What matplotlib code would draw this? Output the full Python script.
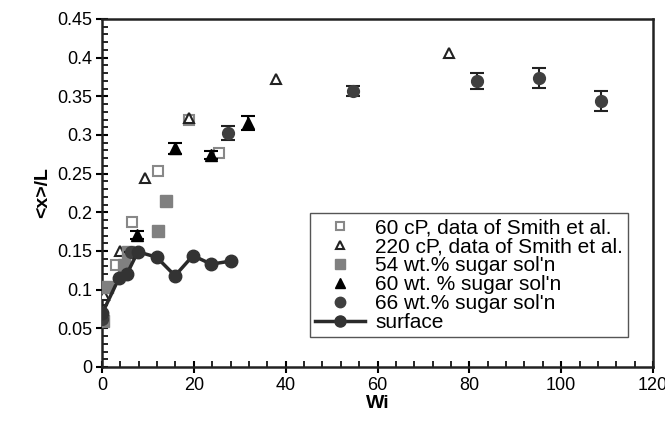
import matplotlib
matplotlib.use("Agg")
import matplotlib.pyplot as plt
from matplotlib.ticker import MultipleLocator
from matplotlib.lines import Line2D

plt.rcParams['font.family'] = ['Liberation Sans', 'DejaVu Sans']

# 60 cP, Smith et al. (open squares)
sq60_x = [3.0, 6.5, 12.2, 19.0, 25.5]
sq60_y = [0.132, 0.187, 0.253, 0.320, 0.277]
# 220 cP, Smith et al. (open triangles)
tri220_x = [0.4, 4.0, 9.4, 19.0, 37.9, 75.5]
tri220_y = [0.093, 0.150, 0.244, 0.322, 0.372, 0.406]
# 54 wt.% sugar (grey squares)
sq54_x = [0.2, 1.1, 4.8, 5.6, 12.2, 13.9]
sq54_y = [0.060, 0.104, 0.132, 0.149, 0.176, 0.215]
# 60 wt.% sugar (black triangles, with error bars)
tri60_x = [7.6, 15.9, 23.7, 31.8]
tri60_y = [0.171, 0.283, 0.274, 0.316]
tri60_err = [0.005, 0.007, 0.005, 0.009]
# 66 wt.% sugar (dark circles, with error bars)
c66_x = [0.1, 6.3, 27.4, 54.7, 81.7, 95.2, 108.7]
c66_y = [0.062, 0.149, 0.302, 0.357, 0.370, 0.374, 0.344]
c66_err = [0.0, 0.0, 0.009, 0.006, 0.010, 0.013, 0.013]
# surface (line with circles)
surf_x = [0.1, 3.7, 5.4, 7.8, 11.9, 15.9, 19.8, 23.8, 28.1]
surf_y = [0.070, 0.115, 0.120, 0.149, 0.142, 0.118, 0.144, 0.133, 0.137]

labels = ['60 cP, data of Smith et al.', '220 cP, data of Smith et al.',
          "54 wt.% sugar sol'n", "60 wt. % sugar sol'n", "66 wt.% sugar sol'n", 'surface']

fig = plt.figure(figsize=(6.65, 4.26), dpi=100)
ax = fig.add_axes([0.1534, 0.1385, 0.8286, 0.8169])

st_sq60 = dict(marker='s', mfc='white', mec='#888888', mew=1.5)
st_tri220 = dict(marker='^', mfc='white', mec='#222222', mew=1.5)
st_sq54 = dict(marker='s', mfc='#808080', mec='#808080')
st_tri60 = dict(marker='^', mfc='black', mec='black')
st_c66 = dict(marker='o', mfc='#3f3f3f', mec='#3f3f3f')
st_surf = dict(marker='o', mfc='#333333', mec='#333333', color='#2a2a2a', lw=2.5)

ax.plot(sq60_x, sq60_y, ls='none', ms=7.5, zorder=3, **st_sq60)
ax.plot(tri220_x, tri220_y, ls='none', ms=7.5, zorder=3, **st_tri220)
ax.plot(sq54_x, sq54_y, ls='none', ms=8, zorder=3, **st_sq54)
ax.errorbar(tri60_x, tri60_y, yerr=tri60_err, ls='none', ms=8.5,
            ecolor='black', elinewidth=1.5, capsize=5, capthick=1.5, zorder=4, **st_tri60)
ax.errorbar(c66_x, c66_y, yerr=c66_err, ls='none', ms=8.5,
            ecolor='#222222', elinewidth=1.5, capsize=5, capthick=1.5, zorder=4, **st_c66)
ax.plot(surf_x, surf_y, ms=9, zorder=5, **st_surf)

handles = [
    Line2D([], [], ls='none', ms=6, **st_sq60),
    Line2D([], [], ls='none', ms=6, **st_tri220),
    Line2D([], [], ls='none', ms=7, **st_sq54),
    Line2D([], [], ls='none', ms=7, **st_tri60),
    Line2D([], [], ls='none', ms=7.5, **st_c66),
    Line2D([], [], ms=8, **st_surf),
]

ax.set_xlim(0, 120)
ax.set_ylim(0, 0.45)
ax.xaxis.set_major_locator(MultipleLocator(20))
ax.xaxis.set_minor_locator(MultipleLocator(4))
ax.yaxis.set_minor_locator(MultipleLocator(0.01))
ax.set_yticks([0, 0.05, 0.1, 0.15, 0.2, 0.25, 0.3, 0.35, 0.4, 0.45])
ax.set_yticklabels(['0', '0.05', '0.1', '0.15', '0.2', '0.25', '0.3', '0.35', '0.4', '0.45'])
ax.tick_params(which='major', direction='inout', length=8, width=1.5, labelsize=13, pad=3)
ax.tick_params(which='minor', direction='in', length=4, width=1.2)
for s in ax.spines.values():
    s.set_linewidth(1.8)
    s.set_color('#222222')

ax.set_xlabel('Wi', fontsize=14, fontweight='bold', labelpad=1)
ax.set_ylabel('<x>/L', fontsize=14, fontweight='bold', labelpad=4)

leg = ax.legend(handles, labels, loc='upper left', bbox_to_anchor=(0.377, 0.443), fontsize=15,
                frameon=True, fancybox=False, edgecolor='#555555', framealpha=1,
                labelspacing=0.0, handlelength=2.4, handletextpad=0.5, borderpad=0.25,
                borderaxespad=0)
leg.get_frame().set_linewidth(1.0)

fig.savefig('out.png', dpi=100)
